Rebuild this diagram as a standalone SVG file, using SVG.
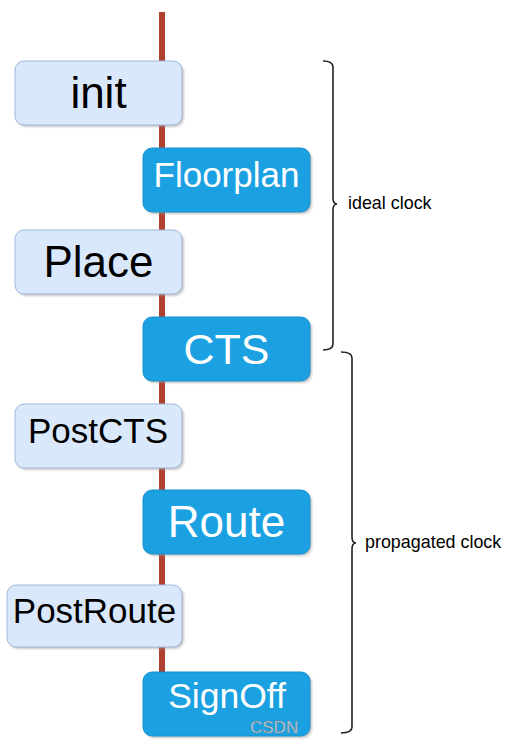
<svg xmlns="http://www.w3.org/2000/svg" width="521" height="747" viewBox="0 0 521 747">
<style>
.lt{fill:#dae8fb;stroke:#9fb7dc;stroke-width:1}
.dk{fill:#1ba1e2;stroke:#1890cc;stroke-width:1}
.sh{fill:#9a9a9a;opacity:0.55}
.t{font-family:"Liberation Sans",Arial,sans-serif;text-anchor:middle}
.tb{fill:#000}
.tw{fill:#fff}
.br{fill:none;stroke:#222;stroke-width:1.6}
.lab{font-family:"Liberation Sans",Arial,sans-serif;font-size:17.9px;fill:#000}
</style>
<defs>
<filter id="blur" x="-10%" y="-10%" width="120%" height="130%"><feGaussianBlur stdDeviation="1.2"/></filter>
</defs>
<g id="connectors">
<line x1="162" y1="12" x2="162" y2="672" stroke="#b0402f" stroke-width="6"/>
</g>
<g id="init">
<rect class="sh" x="17" y="63" width="167" height="64" rx="9" filter="url(#blur)"/>
<rect class="lt" x="15" y="61" width="167" height="64" rx="9"/>
<text class="t tb" x="98.5" y="108" font-size="44">init</text>
</g>
<g id="floorplan">
<rect class="sh" x="145" y="150" width="167" height="64" rx="9" filter="url(#blur)"/>
<rect class="dk" x="143" y="148" width="167" height="64" rx="9"/>
<text class="t tw" x="226.5" y="187" font-size="35">Floorplan</text>
</g>
<g id="place">
<rect class="sh" x="17" y="232" width="167" height="64" rx="9" filter="url(#blur)"/>
<rect class="lt" x="15" y="230" width="167" height="64" rx="9"/>
<text class="t tb" x="98.5" y="277" font-size="44">Place</text>
</g>
<g id="cts">
<rect class="sh" x="145" y="319" width="167" height="64" rx="9" filter="url(#blur)"/>
<rect class="dk" x="143" y="317" width="167" height="64" rx="9"/>
<text class="t tw" x="226.5" y="364" font-size="43">CTS</text>
</g>
<g id="postcts">
<rect class="sh" x="17" y="406" width="167" height="64" rx="9" filter="url(#blur)"/>
<rect class="lt" x="15" y="404" width="167" height="64" rx="9"/>
<text class="t tb" x="98" y="443" font-size="35">PostCTS</text>
</g>
<g id="route">
<rect class="sh" x="145" y="492" width="167" height="64" rx="9" filter="url(#blur)"/>
<rect class="dk" x="143" y="490" width="167" height="64" rx="9"/>
<text class="t tw" x="226.5" y="537" font-size="44">Route</text>
</g>
<g id="postroute">
<rect class="sh" x="9" y="587" width="175" height="62" rx="9" filter="url(#blur)"/>
<rect class="lt" x="7" y="585" width="175" height="62" rx="9"/>
<text class="t tb" x="94.5" y="623" font-size="35">PostRoute</text>
</g>
<g id="signoff">
<rect class="sh" x="145" y="674" width="167" height="64" rx="9" filter="url(#blur)"/>
<rect class="dk" x="143" y="672" width="167" height="64" rx="9"/>
<text class="t tw" x="227" y="708" font-size="35.5">SignOff</text>
<text x="250" y="733" font-family="Liberation Sans,Arial,sans-serif" font-size="17" fill="#c9d6df" stroke="#6a7a86" stroke-width="0.4">CSDN</text>
</g>
<g id="ideal-clock">
<path class="br" d="M323,61 Q333,61 333,67 L333,198 Q333,204 337,204 Q333,204 333,210 L333,344 Q333,350 323,350"/>
<text class="lab" x="348" y="209">ideal clock</text>
</g>
<g id="propagated-clock">
<path class="br" d="M341,352 Q352,352 352,358 L352,537 Q352,543 356,543 Q352,543 352,549 L352,727 Q352,733 341,733"/>
<text class="lab" x="365" y="548">propagated clock</text>
</g>
</svg>
